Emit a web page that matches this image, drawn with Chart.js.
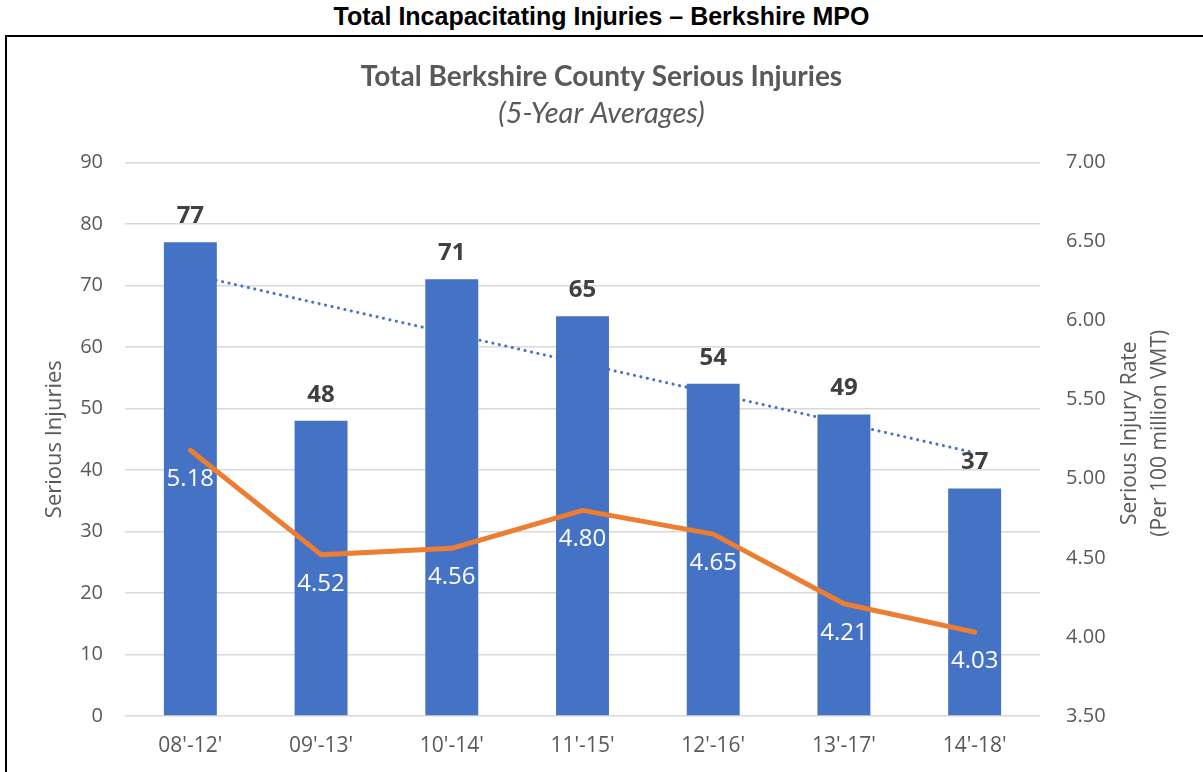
<!DOCTYPE html>
<html>
<head>
<meta charset="utf-8">
<script src="https://cdn.jsdelivr.net/npm/chart.js@4"></script>
<style>
    body { margin: 0; background: #fff; width: 1203px; height: 772px; overflow: hidden; position: relative; }
    #page-title {
        position: absolute; top: 2px; left: 0; width: 1203px; text-align: center;
        font: bold 25px "Liberation Sans", Arial, sans-serif; color: #000;
    }
    #frame {
        position: absolute; left: 5px; top: 35px; width: 1300px; height: 800px;
        border-left: 2px solid #000; border-top: 2px solid #000;
    }
    #chart { position: absolute; left: 0; top: 0; }
</style>
</head>
<body>
<div id="page-title">Total Incapacitating Injuries – Berkshire MPO</div>
<div id="frame"></div>
<canvas id="chart" width="1203" height="772"></canvas>
<script>
const categories = ["08'-12'", "09'-13'", "10'-14'", "11'-15'", "12'-16'", "13'-17'", "14'-18'"];
const seriousInjuries = [77, 48, 71, 65, 54, 49, 37];
const injuryRate = [5.18, 4.52, 4.56, 4.80, 4.65, 4.21, 4.03];
// linear trendline of the bars at its two ends
const injuryTrend = [71.8, null, null, null, null, null, 42.8];

const gray = '#595959';
const tickFont = { family: '"Open Sans", sans-serif', size: 20 };

// value labels: bold above bars, white under the rate line
const valueLabels = {
    id: 'valueLabels',
    afterDatasetsDraw(chart) {
        const ctx = chart.ctx;
        ctx.save();
        ctx.textAlign = 'center';
        ctx.textBaseline = 'middle';

        const barMeta = chart.getDatasetMeta(1);
        ctx.font = 'bold 24px "Open Sans", sans-serif';
        ctx.fillStyle = '#404040';
        barMeta.data.forEach((el, i) => {
            ctx.fillText(seriousInjuries[i], el.x, el.y - 26);
        });

        const lineMeta = chart.getDatasetMeta(0);
        ctx.font = '24px "Open Sans", sans-serif';
        ctx.fillStyle = '#ffffff';
        lineMeta.data.forEach((el, i) => {
            ctx.fillText(injuryRate[i].toFixed(2), el.x, el.y + 29);
        });
        ctx.restore();
    }
};

// right axis title reads bottom-to-top like the left one
const rightTitle = {
    id: 'rightTitle',
    afterDraw(chart) {
        const ctx = chart.ctx;
        const area = chart.chartArea;
        const cy = (area.top + area.bottom) / 2;
        ctx.save();
        ctx.font = '21px "Open Sans", sans-serif';
        ctx.fillStyle = gray;
        ctx.textAlign = 'center';
        ctx.textBaseline = 'middle';
        [['Serious Injury Rate', 90], ['(Per 100 million VMT)', 120]].forEach(([text, dx]) => {
            ctx.save();
            ctx.translate(area.right + dx, cy - 6);
            ctx.rotate(-Math.PI / 2);
            ctx.fillText(text, 0, 0);
            ctx.restore();
        });
        ctx.restore();
    }
};

new Chart(document.getElementById('chart'), {
    data: {
        labels: categories,
        datasets: [
            {
                type: 'line',
                label: 'Serious Injury Rate',
                data: injuryRate,
                yAxisID: 'y2',
                borderColor: '#ED7D31',
                borderWidth: 5,
                borderCapStyle: 'round',
                borderJoinStyle: 'round',
                pointRadius: 0,
                tension: 0,
                order: 0
            },
            {
                type: 'bar',
                label: 'Serious Injuries',
                data: seriousInjuries,
                yAxisID: 'y',
                backgroundColor: '#4472C4',
                barPercentage: 0.405,
                categoryPercentage: 1,
                order: 1
            },
            {
                type: 'line',
                label: 'Trend',
                data: injuryTrend,
                yAxisID: 'y',
                spanGaps: true,
                borderColor: '#4472C4',
                borderWidth: 3,
                borderDash: [0.1, 6.5],
                borderCapStyle: 'round',
                pointRadius: 0,
                order: 2
            }
        ]
    },
    options: {
        responsive: false,
        animation: false,
        devicePixelRatio: 1,
        layout: { padding: { top: 60, left: 0, right: 0, bottom: 0 } },
        plugins: {
            legend: { display: false },
            tooltip: { enabled: false },
            title: {
                display: true,
                text: 'Total Berkshire County Serious Injuries',
                color: gray,
                font: { family: 'Lato, sans-serif', size: 28, weight: 'bold' },
                padding: { top: 0, bottom: 2.6 }
            },
            subtitle: {
                display: true,
                text: '(5-Year Averages)',
                color: gray,
                font: { family: 'Lato, sans-serif', size: 29, style: 'italic' },
                padding: { top: 0, bottom: 31.4 }
            }
        },
        scales: {
            x: {
                grid: { display: false },
                border: { display: false },
                ticks: { color: gray, font: { family: '"Open Sans", sans-serif', size: 21 }, padding: 9 },
                afterFit(scale) { scale.height = 56; }
            },
            y: {
                position: 'left',
                min: 0,
                max: 90,
                ticks: { stepSize: 10, color: gray, font: tickFont, padding: 22 },
                grid: { color: '#d9d9d9', lineWidth: 1.5, drawTicks: false },
                border: { display: false },
                title: {
                    display: true,
                    text: 'Serious Injuries',
                    color: gray,
                    font: { family: '"Open Sans", sans-serif', size: 22 },
                    padding: { top: 42 }
                },
                afterFit(scale) { scale.width = 125; }
            },
            y2: {
                position: 'right',
                min: 3.5,
                max: 7,
                ticks: {
                    stepSize: 0.5,
                    color: gray,
                    font: tickFont,
                    padding: 26,
                    callback: v => v.toFixed(2)
                },
                grid: { display: false, drawTicks: false },
                border: { display: false },
                afterFit(scale) { scale.width = 163; }
            }
        }
    },
    plugins: [valueLabels, rightTitle]
});
</script>
</body>
</html>
